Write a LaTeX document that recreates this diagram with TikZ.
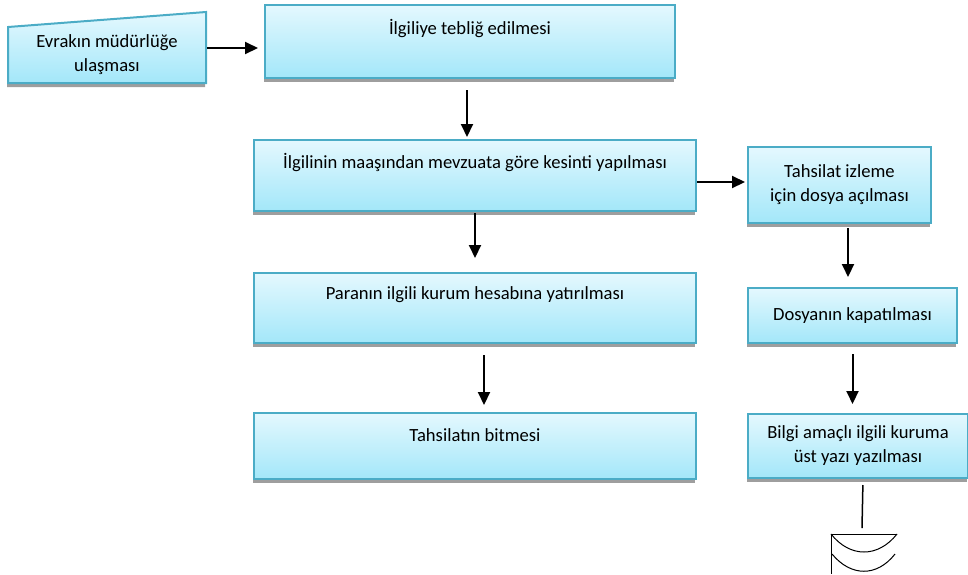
\documentclass[tikz,border=0pt]{standalone}
\usepackage{fontspec}
\setmainfont{Carlito}
\usepackage{tikz}
\usetikzlibrary{calc,arrows.meta,shadows}

\definecolor{Kenar}{RGB}{75,172,198}
\definecolor{Ust}{RGB}{228,248,254}
\definecolor{Alt}{RGB}{163,231,249}

\begin{document}
\begin{tikzpicture}[x=1pt,y=-1pt,
		kutu/.style={draw=Kenar, line width=2pt, top color=Ust, bottom color=Alt,
			drop shadow={shadow xshift=-1pt,shadow yshift=-4pt,fill=black!38,opacity=1},
			anchor=north west, inner sep=0pt, align=center,
			font=\fontsize{18.6}{24}\selectfont},
		ok/.style={line width=2pt, -{Triangle[width=12pt,length=13pt]}}]
		\useasboundingbox (0,0) rectangle (968,574);

		% Manual input shape for the first step
		\coordinate (EvrakNW) at (8,27);
		\coordinate (EvrakNE) at (206,12);
		\coordinate (EvrakSE) at (206,83);
		\coordinate (EvrakSW) at (8,83);
		\path[draw=Kenar, line width=2pt, top color=Ust, bottom color=Alt,
			drop shadow={shadow xshift=-1pt,shadow yshift=-4pt,fill=black!38,opacity=1}]
			(EvrakNW) -- (EvrakNE) -- (EvrakSE) -- (EvrakSW) -- cycle;
		\node[minimum width=198pt, inner sep=0pt, align=center,
			font=\fontsize{18.6}{24}\selectfont] (Evrak) at (107,55)
			{Evrakın müdürlüğe\\ulaşması};

		% Left column
		\node[kutu, minimum width=410pt, text height=29pt, text depth=44pt] (Teblig) at (264,4)
			{İlgiliye tebliğ edilmesi};
		\node[kutu, minimum width=442pt, text height=28pt, text depth=43pt] (Kesinti) at (253,139)
			{İlgilinin maaşından mevzuata göre kesinti yapılması};
		\node[kutu, minimum width=442pt, text height=26pt, text depth=44pt] (Yatirma) at (253,272)
			{Paranın ilgili kurum hesabına yatırılması};
		\node[kutu, minimum width=442pt, text height=28pt, text depth=38pt] (Bitis) at (253,412)
			{Tahsilatın bitmesi};

		% Right column
		\node[kutu, minimum width=183pt, minimum height=76pt] (Dosya) at (747,146)
			{Tahsilat izleme\\için dosya açılması};
		\node[kutu, minimum width=209pt, minimum height=55pt] (Kapatma) at (747,287)
			{Dosyanın kapatılması};
		\node[kutu, minimum width=220pt, minimum height=64pt] (Bilgi) at (747,413)
			{Bilgi amaçlı ilgili kuruma\\üst yazı yazılması};

		% Connectors
		\draw[ok, shorten <=1pt, shorten >=6pt] (Evrak.east |- 0,48) -- (Teblig.west |- 0,48);
		\draw[ok, shorten <=11pt, shorten >=2pt] ([xshift=-3pt]Teblig.south) -- ([xshift=-3pt]Teblig.south |- Kesinti.north);
		\draw[ok, shorten >=2pt] (Kesinti.east |- 0,182) -- (Dosya.west |- 0,182);
		\draw[ok, shorten <=1pt, shorten >=14pt] (Kesinti.south) -- (Yatirma.north);
		\draw[ok, shorten <=4pt, shorten >=10pt] ([xshift=8.5pt]Dosya.south) -- ([xshift=8.5pt]Dosya.south |- Kapatma.north);
		\draw[ok, shorten <=11pt, shorten >=7pt] ([xshift=9pt]Yatirma.south) -- ([xshift=9pt]Yatirma.south |- Bitis.north);
		\draw[ok, shorten <=10pt, shorten >=9pt] (Kapatma.south) -- (Kapatma.south |- Bilgi.north);

		% Terminal (end) symbol
		\coordinate (Son) at (862,528);
		\draw[line width=1.5pt, shorten <=6pt] ([xshift=5pt]Bilgi.south) -- (Son);
		\coordinate (SonSol) at (831,534);
		\coordinate (SonSag) at (897,534);
		\draw[line width=1pt] (SonSag) -- (SonSol) -- (831,574);
		\draw[line width=1pt] (SonSol) .. controls (850,558) and (878,558) .. (SonSag);
		\draw[line width=1pt] (832,554) .. controls (851,577) and (877,577) .. (895,554);
	  \end{tikzpicture}
\end{document}
